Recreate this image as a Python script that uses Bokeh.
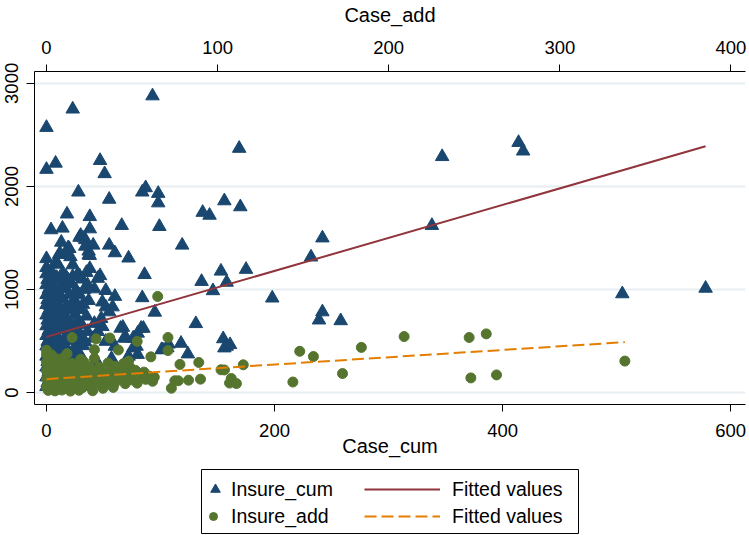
from bokeh.plotting import figure
from bokeh.models import Range1d, LinearAxis, FixedTicker, Legend, LegendItem
from bokeh.embed import file_html
from bokeh.resources import INLINE

FONT = "Liberation Sans"
NAVY = "#1A476F"
MAROON = "#90353B"
GREEN = "#55752F"
ORANGE = "#E37E00"

# ---------------- data ----------------
case_cum = [
    93, 23, 0, 0, 8, 47, 51, 28, 87, 84, 98, 98, 55, 156, 18, 38, 137, 143, 4, 14,
    38, 66, 99, 30, 169, 170, 242, 232, 119, 72, 55, 60, 29, 34, 13, 20, 18, 11, 0, 8,
    37, 37, 34, 41, 175, 153, 347, 414, 418, 338, 198, 242, 239, 258, 158, 146, 136, 131, 155, 158,
    156, 161, 118, 124, 106, 102, 95, 84, 86, 505, 578, 33, 23, 10, 21, 42, 52, 60, 49, 52,
    58, 55, 48, 42, 49, 45, 65, 68, 77, 83, 80, 76, 60, 52, 41, 107, 101, 67, 85, 76,
    70, 79, 80, 72, 44, 57, 63, 70,
    0, 4, 3, 9, 17, 23, 29, 35, 38, 47, 45, 19, 12, 38, 9,
    0, 6, 14, 27, 1, 9, 19, 31, 0, 4, 12, 22, 36, 2, 7, 16, 26, 33, 0, 5,
    11, 20, 29, 1, 8, 14, 24, 37, 0, 3, 10, 18, 27, 32, 2, 6, 13, 22, 30, 0,
    4, 9, 16, 25, 35, 1, 7, 12, 19, 28, 0, 3, 10, 15, 23, 31, 2, 6, 13, 20,
    26, 36, 0, 4, 9, 17, 24, 30, 1, 7, 12, 21, 28, 34, 0, 3, 10, 15, 25, 32,
    2, 5, 13, 19, 27, 0, 4, 8, 16, 23, 30, 1, 6, 11, 18, 26, 0, 3, 9, 14,
    21, 2, 5, 12, 17, 24, 0, 4, 8, 15, 1, 6, 11, 0, 3, 7,
]
insure_cum = [
    2878, 2750, 2572, 2165, 2225, 2251, 2123, 1945, 1987, 1945, 1932, 1840, 1875, 1860, 1732, 1707, 1748, 1720, 1579, 1595,
    1588, 1621, 1611, 1525, 2369, 1802, 1500, 1315, 1430, 1305, 1430, 1356, 1506, 1483, 1458, 1397, 1340, 1340, 1299, 1261,
    1334, 1372, 1420, 1430, 1195, 1178, 2289, 2426, 2343, 1621, 917, 783, 704, 697, 1070, 988, 1078, 669, 522, 449,
    433, 465, 478, 375, 435, 415, 780, 920, 1145, 958, 1012, 1500, 1239, 1245, 1318, 1006, 990, 933, 879, 831,
    831, 783, 719, 671, 640, 592, 624, 528, 528, 624, 576, 433, 449, 497, 528, 470, 417, 633, 624, 528,
    528, 449, 370, 353, 300, 330, 220, 300,
    1213, 1165, 1117, 1117, 1127, 1127, 1134, 1165, 1203, 1134, 1108, 1404, 1350, 1330, 1254,
    1152, 1146, 1158, 1140, 1098, 1104, 1092, 1101, 1047, 1055, 1043, 1052, 1046, 1003, 996, 1008, 994, 1001, 951, 957,
    944, 953, 948, 902, 896, 907, 899, 893, 853, 847, 858, 844, 851, 856, 798, 804, 795, 801, 806, 752,
    745, 757, 749, 754, 742, 703, 697, 708, 694, 701, 648, 655, 643, 652, 646, 657, 602, 596, 607, 598,
    604, 593, 553, 547, 556, 544, 551, 558, 497, 503, 494, 506, 499, 491, 452, 446, 457, 449, 443, 455,
    398, 404, 393, 407, 401, 353, 347, 356, 344, 351, 358, 302, 296, 307, 299, 293, 248, 254, 243, 251,
    257, 203, 197, 206, 194, 201, 152, 146, 155, 149, 98, 104, 95, 58, 63, 52,
]

case_add = [
    65, 71, 71, 61, 78, 89, 102, 104, 115, 61, 75, 77, 83, 90, 73, 108, 107, 111, 148, 156,
    184, 209, 173, 144, 247, 257, 248, 263, 338, 15, 29, 37, 28, 28, 0, 2, 42, 53, 47, 48,
    0, 3, 12, 1, 6, 10, 20, 0, 4, 9, 15, 22, 36, 45, 2, 7, 12, 18, 25, 31,
    40, 49, 0, 5, 10, 14, 20, 27, 33, 38, 44, 52, 57, 1, 3, 8, 12, 17, 23, 29,
    35, 41, 47, 55, 60, 0, 4, 6, 10, 15, 19, 25, 31, 37, 43, 50, 58, 2, 5, 9,
    13, 17, 22, 28, 34, 40, 46, 53, 0, 3, 7, 11, 16, 21, 26, 33, 39, 1, 5, 9,
    14, 19, 27, 63, 62,
]
insure_add = [
    933, 535, 408, 347, 274, 293, 222, 220, 270, 137, 115, 115, 121, 131, 43, 137, 93, 88, 401, 350,
    439, 544, 185, 103, 535, 570, 143, 172, 306, 535, 522, 530, 417, 331, 411, 370, 414, 497, 274, 306,
    372, 366, 378, 333, 327, 338, 324, 292, 286, 297, 283, 295, 288, 281, 253, 247, 258, 244, 251, 246,
    255, 242, 212, 206, 217, 203, 209, 214, 201, 211, 205, 216, 199, 173, 166, 177, 164, 171, 168, 175,
    162, 172, 166, 178, 161, 132, 126, 137, 123, 134, 128, 139, 121, 131, 136, 124, 129, 93, 86, 97,
    84, 91, 95, 82, 89, 96, 87, 92, 52, 46, 57, 44, 53, 48, 55, 42, 51, 22, 17, 25,
    15, 23, 18, 150, 110,
]

fit_cum_x = [0, 578]
fit_cum_y = [541, 2390]
fit_add_x = [0, 338]
fit_add_y = [131, 490]

x_cum_ticks = [0, 200, 400, 600]
x_add_ticks = [0, 100, 200, 300, 400]
y_ticks = [0, 1000, 2000, 3000]

# ---------------- main plot ----------------
p = figure(width=749, height=462, output_backend="svg", toolbar_location=None,
           x_range=Range1d(-10.5, 613), y_range=Range1d(-115, 3115),
           min_border_left=34, min_border_right=4, min_border_top=66, min_border_bottom=58)
p.extra_x_ranges = {"add": Range1d(-7, 408.5)}
p.outline_line_color = None
p.background_fill_color = "white"
p.border_fill_color = "white"
p.xgrid.visible = False
p.ygrid.grid_line_color = "#E6EEF1"
p.ygrid.grid_line_width = 2
p.ygrid.ticker = FixedTicker(ticks=y_ticks)

bottom = p.below[0]
left = p.left[0]
top = LinearAxis(x_range_name="add", ticker=FixedTicker(ticks=x_add_ticks), axis_label="Case_add")
p.add_layout(top, "above")


def style(ax):
    ax.axis_line_color = "black"
    ax.axis_line_width = 1
    ax.major_tick_line_color = "black"
    ax.major_tick_in = 0
    ax.major_tick_out = 7
    ax.minor_tick_line_color = None
    ax.major_label_text_font = FONT
    ax.major_label_text_font_size = "18.5px"
    ax.major_label_text_color = "black"
    ax.axis_label_text_font = FONT
    ax.axis_label_text_font_size = "20px"
    ax.axis_label_text_font_style = "normal"
    ax.axis_label_text_color = "black"


bottom.ticker = FixedTicker(ticks=x_cum_ticks)
bottom.axis_label = "Case_cum"
style(bottom)
bottom.major_label_standoff = 12
bottom.axis_label_standoff = -5

style(top)
top.major_label_standoff = 11
top.axis_label_standoff = 12

left.ticker = FixedTicker(ticks=y_ticks)
style(left)
left.major_tick_out = 8
left.major_label_standoff = 8
left.major_label_orientation = "vertical"

p.scatter(case_cum, insure_cum, marker="triangle", size=13.5, fill_color=NAVY, line_color=NAVY)
p.line(fit_cum_x, fit_cum_y, line_color=MAROON, line_width=2)
p.scatter(case_add, insure_add, x_range_name="add", marker="circle", size=10,
          fill_color=GREEN, line_color=GREEN)
p.line(fit_add_x, fit_add_y, x_range_name="add", line_color=ORANGE, line_width=2, line_dash="12 5")

# ---------------- legend strip (its frame outline is the legend box) ----------------
q = figure(width=749, height=73, output_backend="svg", toolbar_location=None,
           x_range=Range1d(0, 1), y_range=Range1d(0, 1), x_axis_type=None, y_axis_type=None,
           min_border_left=201, min_border_right=171, min_border_top=7, min_border_bottom=2)
q.outline_line_color = "black"
q.outline_line_width = 1
q.background_fill_color = "white"
q.border_fill_color = "white"
q.grid.visible = False

# legend-only renderers (hidden; they only give the legend its glyph styles)
k1 = q.scatter(case_cum, insure_cum, marker="triangle", fill_color=NAVY, line_color=NAVY, visible=False)
k2 = q.scatter(case_add, insure_add, marker="circle", fill_color=GREEN, line_color=GREEN, visible=False)
k3 = q.line(fit_cum_x, fit_cum_y, line_color=MAROON, line_width=2, visible=False)
k4 = q.line(fit_add_x, fit_add_y, line_color=ORANGE, line_width=2, line_dash="12 5", visible=False)

common = dict(orientation="vertical", glyph_height=26, label_height=26, spacing=1,
              margin=0, border_line_color=None, background_fill_alpha=0,
              label_text_font=FONT, label_text_font_size="19.5px", label_text_color="black")
leg1a = Legend(items=[LegendItem(label="Insure_cum", renderers=[k1])],
               location=(2, 31), glyph_width=24, padding=3, label_standoff=4, **common)
leg1b = Legend(items=[LegendItem(label="Insure_add", renderers=[k2])],
               location=(2, 4), glyph_width=20, padding=5, label_standoff=8, **common)
leg2 = Legend(items=[LegendItem(label="Fitted values", renderers=[k3]),
                     LegendItem(label="Fitted values", renderers=[k4])],
              location=(163, 4), glyph_width=76, padding=3, label_standoff=12, **common)
q.add_layout(leg1a)
q.add_layout(leg1b)
q.add_layout(leg2)

open("out.html", "w").write(file_html([p, q], INLINE))
